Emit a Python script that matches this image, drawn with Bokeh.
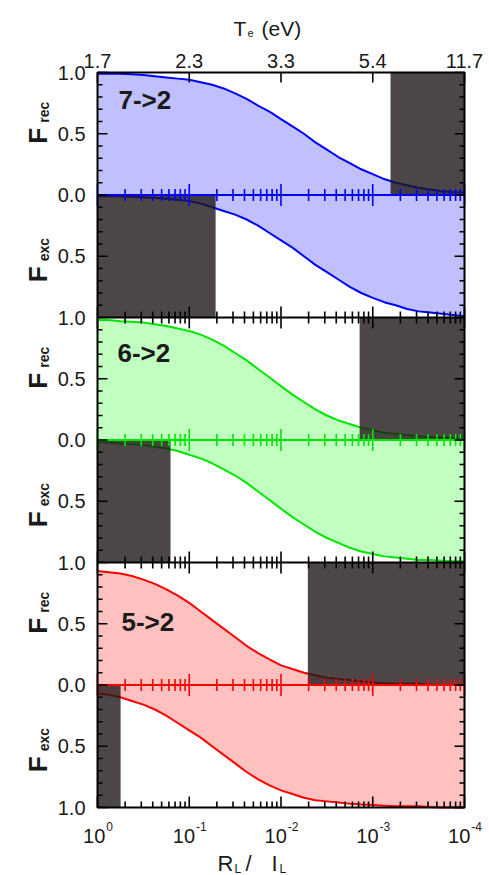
import math

from bokeh.plotting import figure
from bokeh.models import Range1d, Label, ColumnDataSource, Grid
from bokeh.embed import file_html
from bokeh.resources import INLINE

# R_L / l_L sample points (every eighth of a decade)
ratio = [1.0, 0.7499, 0.5623, 0.4217, 0.3162, 0.2371, 0.1778, 0.1334,
         0.1, 0.07499, 0.05623, 0.04217, 0.03162, 0.02371, 0.01778, 0.01334,
         0.01, 0.007499, 0.005623, 0.004217, 0.003162, 0.002371, 0.001778,
         0.001334, 0.001, 0.0007499, 0.0005623, 0.0004217, 0.0003162,
         0.0002371, 0.0001778, 0.0001334, 0.0001]

# recombining / excitation fractions for each Balmer transition
rec_72 = [0.99, 0.99, 0.99, 0.985, 0.98, 0.97, 0.96, 0.95, 0.94, 0.92, 0.90,
          0.87, 0.83, 0.785, 0.73, 0.68, 0.62, 0.56, 0.50, 0.43, 0.37, 0.31,
          0.26, 0.21, 0.17, 0.13, 0.10, 0.08, 0.06, 0.045, 0.03, 0.025, 0.02]
exc_72 = [0.01, 0.01, 0.01, 0.015, 0.02, 0.025, 0.03, 0.04, 0.05, 0.07, 0.10,
          0.13, 0.16, 0.20, 0.25, 0.31, 0.37, 0.43, 0.50, 0.57, 0.63, 0.69,
          0.75, 0.80, 0.84, 0.875, 0.90, 0.93, 0.95, 0.96, 0.97, 0.98, 0.99]
rec_62 = [0.98, 0.98, 0.97, 0.965, 0.96, 0.945, 0.93, 0.91, 0.89, 0.86, 0.82,
          0.77, 0.71, 0.65, 0.58, 0.51, 0.44, 0.37, 0.31, 0.25, 0.20, 0.16,
          0.13, 0.10, 0.08, 0.06, 0.05, 0.04, 0.03, 0.025, 0.02, 0.015, 0.01]
exc_62 = [0.02, 0.02, 0.03, 0.035, 0.04, 0.055, 0.07, 0.09, 0.12, 0.15, 0.19,
          0.24, 0.29, 0.35, 0.42, 0.49, 0.56, 0.63, 0.69, 0.75, 0.80, 0.84,
          0.88, 0.91, 0.93, 0.95, 0.96, 0.97, 0.98, 0.98, 0.985, 0.99, 0.99]
rec_52 = [0.93, 0.92, 0.91, 0.89, 0.86, 0.825, 0.78, 0.73, 0.67, 0.60, 0.53,
          0.46, 0.39, 0.32, 0.26, 0.21, 0.16, 0.13, 0.10, 0.08, 0.06, 0.05,
          0.04, 0.03, 0.02, 0.015, 0.01, 0.01, 0.01, 0.005, 0.0, 0.0, 0.0]
exc_52 = [0.07, 0.08, 0.10, 0.13, 0.16, 0.20, 0.25, 0.31, 0.37, 0.43, 0.50,
          0.57, 0.64, 0.71, 0.77, 0.82, 0.86, 0.89, 0.92, 0.94, 0.95, 0.96,
          0.97, 0.975, 0.98, 0.985, 0.99, 0.99, 0.99, 0.995, 1.0, 1.0, 1.0]

transitions = ["7->2", "6->2", "5->2"]
rec_series = [rec_72, rec_62, rec_52]
exc_series = [exc_72, exc_62, exc_52]

# shaded (excluded) ranges of R_L / l_L
rec_shade_from = [6.4e-4, 1.39e-3, 5.1e-3]
exc_shade_to = [0.0516, 0.16, 0.56]

# axis ticks
decades = [1, 0.1, 0.01, 0.001, 0.0001]
decade_exps = ["0", "-1", "-2", "-3", "-4"]
te_labels = ["1.7", "2.3", "3.3", "5.4", "11.7"]

line_colors = ["#0000ff", "#00e600", "#ff0000"]
fill_colors = ["#c0c0ff", "#c0ffc0", "#ffc0c0"]
shade_color = "#201819"
text_color = "#1a1a1a"
FONT = "Liberation Sans"

# each transition occupies two unit-high bands around its zero level:
# F_rec grows upward, F_exc grows downward
zero_levels = [4, 2, 0]
X_LEFT, X_RIGHT = 1, 1e-4
Y_BOT, Y_TOP = -1, 5

# page geometry (pixels): the plotting box sits inside the canvas and
# the margins around it hold the hand-made axes and their texts
W, H = 489, 875
BOX_L, BOX_T = 97, 72
PX_DEC = 91.75     # pixels per decade of R_L / l_L
PX_UNIT = 122.5    # pixels per unit of F

p = figure(width=W, height=H, x_axis_type="log",
           x_axis_location=None, y_axis_location=None,
           x_range=Range1d(10 ** (BOX_L / PX_DEC),
                           10 ** (-(W - BOX_L) / PX_DEC)),
           y_range=Range1d(Y_BOT - (H - BOX_T - 6 * PX_UNIT) / PX_UNIT,
                           Y_TOP + BOX_T / PX_UNIT),
           output_backend="svg", toolbar_location=None,
           min_border=0, min_border_left=0, min_border_right=0,
           min_border_top=0, min_border_bottom=0)
p.title.visible = False
p.outline_line_color = None
p.background_fill_color = "white"
p.border_fill_color = "white"
for g in p.select(type=Grid):
    g.visible = False

for i, off in enumerate(zero_levels):
    rec = rec_series[i]
    exc = exc_series[i]
    src = ColumnDataSource(dict(
        x=ratio,
        base=[off] * len(ratio),
        rec_top=[off + v for v in rec],
        exc_bot=[off - v for v in exc],
    ))
    p.varea(x="x", y1="base", y2="rec_top", source=src,
            fill_color=fill_colors[i])
    p.varea(x="x", y1="exc_bot", y2="base", source=src,
            fill_color=fill_colors[i])
    p.line(x="x", y="rec_top", source=src, line_color=line_colors[i],
           line_width=2)
    p.line(x="x", y="exc_bot", source=src, line_color=line_colors[i],
           line_width=2)

# excluded regions
for i, off in enumerate(zero_levels):
    p.quad(left=[rec_shade_from[i]], right=[X_RIGHT], bottom=[off],
           top=[off + 1], fill_color=shade_color, fill_alpha=0.8,
           line_color=None)
    p.quad(left=[X_LEFT], right=[exc_shade_to[i]], bottom=[off - 1],
           top=[off], fill_color=shade_color, fill_alpha=0.8,
           line_color=None)

# ---- axes -------------------------------------------------------------
minor_x = [d / k for d in decades[:-1] for k in range(2, 10)]
y_major = [k * 0.5 for k in range(-2, 11)]
y_minor = [round(-1 + 0.1 * k, 1) for k in range(61) if k % 5 != 0]


def vticks(xs, y, up_px, down_px, color):
    """vertical tick marks on a horizontal axis line"""
    p.segment(x0=xs, x1=xs, y0=[y - down_px / PX_UNIT] * len(xs),
              y1=[y + up_px / PX_UNIT] * len(xs), line_color=color,
              line_width=1.6)


def hticks(ys, x_edge, length_px, inward_sign):
    """horizontal tick marks on a vertical axis line"""
    x_end = x_edge * 10 ** (-inward_sign * length_px / PX_DEC)
    p.segment(x0=[x_edge] * len(ys), x1=[x_end] * len(ys), y0=ys, y1=ys,
              line_color="black", line_width=1.6)


# inner axis lines, ticks cross them
inner_lines = [(4, line_colors[0]), (3, "black"), (2, line_colors[1]),
               (1, "black"), (0, line_colors[2])]
for yloc, col in inner_lines:
    p.segment(x0=[X_LEFT], x1=[X_RIGHT], y0=[yloc], y1=[yloc],
              line_color=col, line_width=2)
    vticks(decades, yloc, 11, 11, col)
    vticks(minor_x, yloc, 6, 6, col)

# bottom axis (R_L / l_L) and top axis (T_e), ticks point inward
vticks(decades, Y_BOT, 11, 0, "black")
vticks(minor_x, Y_BOT, 6, 0, "black")
vticks(decades, Y_TOP, 0, 10, "black")
# left / right axes
hticks(y_major, X_LEFT, 10, 1)
hticks(y_minor, X_LEFT, 5, 1)
hticks(y_major, X_RIGHT, 10, -1)
hticks(y_minor, X_RIGHT, 5, -1)

p.quad(left=[X_LEFT], right=[X_RIGHT], bottom=[Y_BOT], top=[Y_TOP],
       fill_color=None, line_color="black", line_width=2)


def add_label(text, x, y, dx, dy, size, bold=False, angle=0.0,
              align="left", baseline="alphabetic"):
    p.add_layout(Label(x=x, y=y, x_offset=dx, y_offset=dy, text=text,
                       text_font=FONT, text_font_size=size,
                       text_font_style="bold" if bold else "normal",
                       text_color=text_color, angle=angle,
                       text_align=align, text_baseline=baseline))


# F tick labels: distance from the nearest zero level
for v in y_major:
    dist = abs(v - min(zero_levels, key=lambda z: abs(v - z)))
    add_label("%.1f" % dist, X_LEFT, v, -12, 0, "20px", align="right",
              baseline="middle")

# T_e tick labels
for d, t in zip(decades, te_labels):
    add_label(t, d, Y_TOP, 0, 12, "20px", align="center")

# R_L / l_L tick labels: 10 with a raised exponent
for d, e in zip(decades, decade_exps):
    w_base = 2 * 0.556 * 20
    w_sup = sum(0.333 if c == "-" else 0.556 for c in e) * 12
    right = (w_base - w_sup) / 2
    add_label("10", d, Y_BOT, right, -28, "20px", align="right")
    add_label(e, d, Y_BOT, right + 1, -19, "12px")

# axis titles
add_label("T", X_LEFT, Y_TOP, 136, 44, "21px")
add_label("e", X_LEFT, Y_TOP, 150, 40, "11px")
add_label("(eV)", X_LEFT, Y_TOP, 164, 44, "21px")

add_label("R", X_LEFT, Y_BOT, 120, -56, "22px")
add_label("L", X_LEFT, Y_BOT, 137, -61, "12px")
add_label("/", X_LEFT, Y_BOT, 148, -56, "22px")
add_label("I", X_LEFT, Y_BOT, 174, -56, "22px")
add_label("L", X_LEFT, Y_BOT, 182, -61, "12px")

# transition names and F_rec / F_exc titles
name_dy = [-27, -35, -59]
name_dx = [21, 20, 24]
for i, off in enumerate(zero_levels):
    add_label(transitions[i], X_LEFT, off + 1, name_dx[i], name_dy[i], "26px",
              bold=True, baseline="middle")
    for sub, centre, dy in (("rec", off + 0.5, -10), ("exc", off - 0.5, -26)):
        add_label("F", X_LEFT, centre, -60, dy, "26px", bold=True,
                  angle=math.pi / 2)
        add_label(sub, X_LEFT, centre, -54, dy + 21, "14px", bold=True,
                  angle=math.pi / 2)

open("out.html", "w").write(file_html(p, INLINE))
